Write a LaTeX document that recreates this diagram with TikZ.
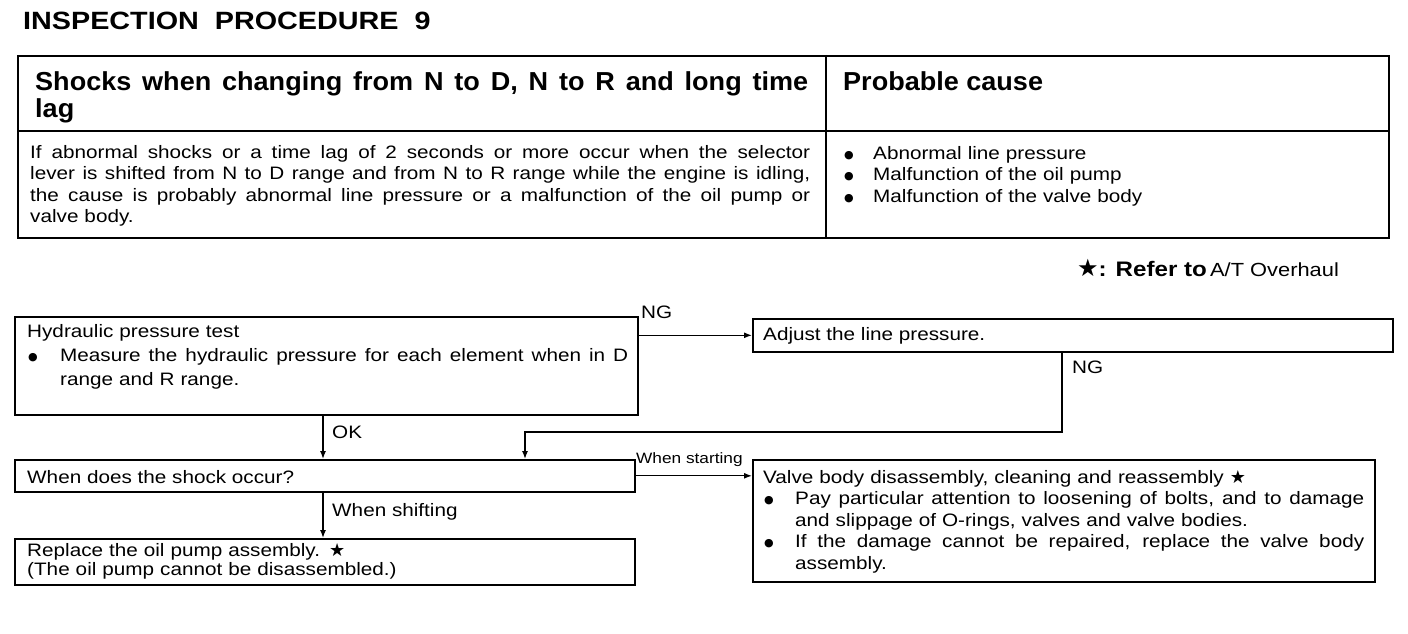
\documentclass[tikz,border=0pt]{standalone}
\usepackage{fontspec}
\setmainfont{Liberation Sans}[FakeStretch=1.15]
\newfontfamily\hdrf{Liberation Sans}[FakeStretch=1.04]
\newfontfamily\symf{DejaVu Sans}
\usetikzlibrary{arrows.meta}
\newcommand{\jl}[2]{\makebox[#1][s]{\spaceskip=0pt\xspaceskip=0pt #2}}
\newcommand{\bul}[1]{\makebox[#1][l]{\hspace*{1pt}\raisebox{1pt}{\fontsize{11}{11}\symf ●}}}
\newcommand{\sstar}{{\symf ★}}
\begin{document}
\begin{tikzpicture}[x=1pt,y=-1pt,
  box/.style={draw,line width=1.6pt,inner sep=0pt,anchor=north west},
  txt/.style={inner sep=0pt,anchor=base west,align=left,font=\fontsize{18}{21.5}\selectfont},
  hdr/.style={inner sep=0pt,anchor=base west,align=left,font=\hdrf\fontsize{26}{27}\selectfont\bfseries},
  lbl/.style={inner sep=0pt,anchor=base west,font=\fontsize{18}{20}\selectfont},
  conn/.style={line width=1.3pt,-{Latex[length=8pt,width=6pt]}}]
\useasboundingbox (0,0) rectangle (1408,634);
% title
\node[inner sep=0pt,anchor=base west,font=\fontsize{25}{25}\selectfont\bfseries] (title) at (23,30) {INSPECTION\ \ PROCEDURE\ \ 9};
% table
\node[box,minimum width=1371pt,minimum height=182pt] (tab) at (17,55) {};
\coordinate (hl) at (17,131);
\coordinate (vl) at (826,55);
\draw[line width=1.4pt] (hl) -- (hl -| tab.east);
\draw[line width=1.4pt] (vl) -- (vl |- tab.south);
\node[hdr,text width=780pt] (h1) at (35,90) {\jl{773pt}{Shocks when changing from N to D, N to R and long time}\\lag};
\node[hdr] (h2) at (843,90) {Probable cause};
\node[txt,text width=790pt] (body) at (30,158) {\jl{780pt}{If abnormal shocks or a time lag of 2 seconds or more occur when the selector}\\
\jl{780pt}{lever is shifted from N to D range and from N to R range while the engine is idling,}\\
\jl{780pt}{the cause is probably abnormal line pressure or a malfunction of the oil pump or}\\
valve body.};
\node[txt,text width=500pt] (causes) at (843,159) {\bul{30pt}Abnormal line pressure\\
\bul{30pt}Malfunction of the oil pump\\
\bul{30pt}Malfunction of the valve body};
\node[inner sep=0pt,anchor=base west] (ref) at (1077,276) {{\fontsize{24}{24}\selectfont\sstar}{\fontsize{21}{21}\selectfont\bfseries: Refer to} {\fontsize{19}{19}\selectfont A/T Overhaul}};
% flowchart boxes
\node[box,minimum width=623pt,minimum height=98pt] (A) at (14,316) {};
\node[box,minimum width=640pt,minimum height=33pt] (B) at (752,318) {};
\node[box,minimum width=620pt,minimum height=32pt] (C) at (14,459) {};
\node[box,minimum width=622pt,minimum height=122pt] (D) at (752,459) {};
\node[box,minimum width=620pt,minimum height=46pt] (E) at (14,538) {};
% texts
\node[txt,text width=610pt,font=\fontsize{18}{24}\selectfont] (At) at (27,337) {Hydraulic pressure test\\
\bul{33pt}\jl{568pt}{Measure the hydraulic pressure for each element when in D}\\
\hspace*{33pt}range and R range.};
\node[txt] (Bt) at (763,340) {Adjust the line pressure.};
\node[txt] (Ct) at (27,483) {When does the shock occur?};
\node[txt,text width=610pt,font=\fontsize{18}{21.5}\selectfont] (Dt) at (763,483) {Valve body disassembly, cleaning and reassembly \sstar\\
\bul{32pt}\jl{569pt}{Pay particular attention to loosening of bolts, and to damage}\\
\hspace*{32pt}and slippage of O-rings, valves and valve bodies.\\
\bul{32pt}\jl{569pt}{If the damage cannot be repaired, replace the valve body}\\
\hspace*{32pt}assembly.};
\node[txt,text width=610pt,font=\fontsize{18}{19.5}\selectfont] (Et) at (27,556) {Replace the oil pump assembly. \sstar\\
(The oil pump cannot be disassembled.)};
% connector coordinates
\coordinate (okx) at (323,0);
\coordinate (ng1) at (1062,432);
\coordinate (ng2) at (525,432);
% connectors
\draw[conn] (A.east |- B.west) -- (B.west);
\draw[conn] (A.south -| okx) -- (C.north -| okx);
\draw[conn] (B.south -| ng1) -- (ng1) -- (ng2) -- (C.north -| ng2);
\draw[conn] (C.east) -- (D.west |- C.east);
\draw[conn] (C.south -| okx) -- (E.north -| okx);
% labels
\node[lbl] (ngA) at (641,318) {NG};
\node[lbl] (ngB) at (1072,373) {NG};
\node[lbl] (ok) at (332,438) {OK};
\node[lbl,font=\fontsize{15}{15}\selectfont] (ws) at (636,463) {When starting};
\node[lbl] (wsh) at (332,516) {When shifting};
\end{tikzpicture}
\end{document}
